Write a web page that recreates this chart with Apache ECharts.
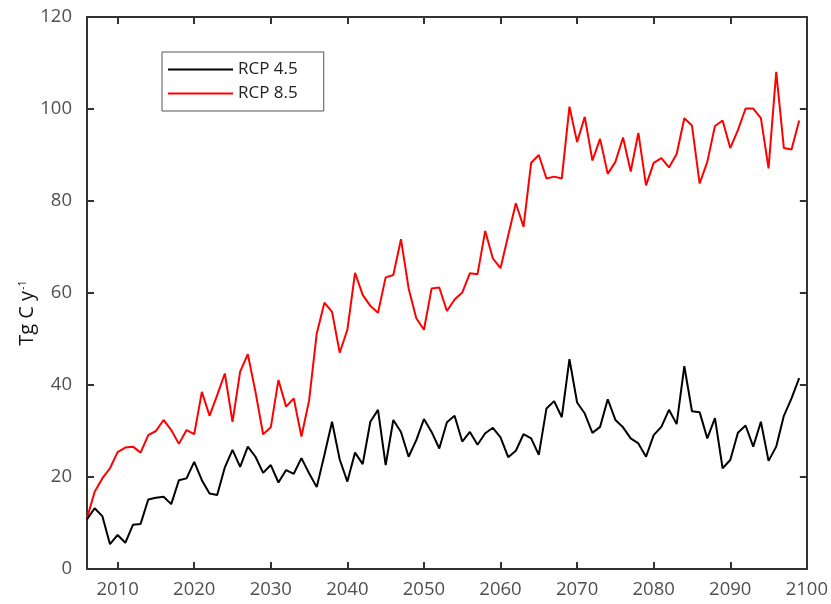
<!DOCTYPE html>
<html>
<head>
<meta charset="utf-8">
<script src="https://cdn.jsdelivr.net/npm/echarts@6/dist/echarts.min.js"></script>
<style>
  html, body { margin: 0; padding: 0; background: #fff; }
  #chart { width: 831px; height: 604px; }
</style>
</head>
<body>
<div id="chart"></div>
<script>
// years 2006..2099
const years = []
for (let y = 2006; y <= 2099; y++) years.push(y)

const rcp45 = [
  10.8, 13.2, 11.5, 5.4, 7.4, 5.7, 9.6, 9.8, 15.1, 15.5,
  15.7, 14.1, 19.3, 19.7, 23.3, 19.3, 16.4, 16.1, 22.1, 25.9,
  22.2, 26.6, 24.4, 20.9, 22.6, 18.8, 21.5, 20.7, 24.1, 20.8,
  17.8, 24.8, 32.0, 23.8, 19.0, 25.3, 22.8, 32.0, 34.6, 22.6,
  32.4, 29.8, 24.4, 28.0, 32.6, 29.8, 26.2, 31.9, 33.3, 27.7,
  29.8, 27.0, 29.5, 30.7, 28.6, 24.3, 25.7, 29.3, 28.4, 24.8,
  34.9, 36.5, 33.0, 45.6, 36.2, 33.8, 29.6, 30.9, 36.9, 32.4,
  30.8, 28.4, 27.3, 24.4, 29.1, 30.9, 34.6, 31.5, 44.1, 34.3,
  34.1, 28.4, 32.8, 21.9, 23.7, 29.6, 31.2, 26.6, 32.0, 23.5,
  26.6, 33.3, 37.1, 41.5
]

const rcp85 = [
  11.0, 16.8, 19.7, 21.9, 25.4, 26.4, 26.6, 25.3, 29.1, 30.0,
  32.4, 30.2, 27.2, 30.2, 29.3, 38.5, 33.3, 37.8, 42.5, 32.0,
  42.9, 46.7, 38.5, 29.3, 30.8, 41.1, 35.3, 37.1, 28.8, 36.6,
  51.2, 57.9, 55.9, 47.0, 52.0, 64.4, 59.6, 57.2, 55.7, 63.4,
  63.9, 71.7, 61.0, 54.5, 52.0, 61.0, 61.2, 56.1, 58.6, 60.1,
  64.3, 64.1, 73.5, 67.5, 65.4, 72.5, 79.5, 74.4, 88.3, 90.0,
  84.9, 85.3, 84.9, 100.5, 92.8, 98.3, 88.8, 93.5, 85.9, 88.5,
  93.8, 86.4, 94.8, 83.4, 88.3, 89.3, 87.3, 90.2, 98.0, 96.4,
  83.8, 88.5, 96.3, 97.5, 91.5, 95.4, 100.1, 100.1, 98.0, 87.1,
  108.1, 91.5, 91.2, 97.5
]

const xTicks = [2010, 2020, 2030, 2040, 2050, 2060, 2070, 2080, 2090, 2100]

const axisColor = '#333'
const labelColor = '#505050'
const fontFamily = '"Open Sans", "Noto Sans", sans-serif'

const tickStyle = { color: axisColor, width: 2 }

const chart = echarts.init(document.getElementById('chart'))

const option = {
  animation: false,
  backgroundColor: '#fff',
  grid: { left: 87, right: 21, top: 17, bottom: 35 },
  legend: {
    orient: 'vertical',
    left: 162,
    top: 52,
    padding: [9, 26, 9, 6],
    itemGap: 7,
    itemWidth: 65,
    itemHeight: 2,
    icon: 'rect',
    backgroundColor: '#fff',
    borderColor: '#555',
    borderWidth: 1,
    borderRadius: 0,
    textStyle: { fontSize: 17, color: '#222', fontFamily: fontFamily },
    data: ['RCP 4.5', 'RCP 8.5']
  },
  xAxis: [{
    type: 'value',
    min: 2006,
    max: 2100,
    axisLine: { onZero: false, lineStyle: tickStyle },
    axisTick: { inside: true, length: 7, customValues: xTicks, lineStyle: tickStyle },
    axisLabel: {
      customValues: xTicks,
      margin: 11,
      fontSize: 18.5,
      color: labelColor,
      fontFamily: fontFamily,
      formatter: v => String(v)
    },
    splitLine: { show: false }
  }, {
    type: 'value',
    position: 'top',
    min: 2006,
    max: 2100,
    axisLine: { onZero: false, lineStyle: tickStyle },
    axisTick: { inside: true, length: 7, customValues: xTicks, lineStyle: tickStyle },
    axisLabel: { show: false },
    splitLine: { show: false }
  }],
  yAxis: [{
    type: 'value',
    min: 0,
    max: 120,
    interval: 20,
    name: 'Tg C y{sup|-1}',
    nameLocation: 'middle',
    nameGap: 50,
    nameMoveOverlap: false,
    nameRotate: 90,
    nameTextStyle: {
      fontSize: 20,
      color: '#111',
      fontFamily: fontFamily,
      padding: [0, 40, 0, 0],
      rich: {
        sup: { fontSize: 11, verticalAlign: 'top', color: '#111', fontFamily: fontFamily, padding: [0, 0, 9, 1] }
      }
    },
    axisLine: { show: true, onZero: false, lineStyle: tickStyle },
    axisTick: { show: true, inside: true, length: 7, lineStyle: tickStyle },
    axisLabel: { margin: 15, fontSize: 18.5, color: labelColor, fontFamily: fontFamily },
    splitLine: { show: false }
  }, {
    type: 'value',
    position: 'right',
    min: 0,
    max: 120,
    interval: 20,
    axisLine: { show: true, onZero: false, lineStyle: tickStyle },
    axisTick: { show: true, inside: true, length: 7, lineStyle: tickStyle },
    axisLabel: { show: false },
    splitLine: { show: false }
  }],
  series: [{
    name: 'RCP 4.5',
    type: 'line',
    data: years.map((y, i) => [y, rcp45[i]]),
    symbol: 'none',
    lineStyle: { color: '#000', width: 2 },
    itemStyle: { color: '#000' },
    z: 3
  }, {
    name: 'RCP 8.5',
    type: 'line',
    data: years.map((y, i) => [y, rcp85[i]]),
    symbol: 'none',
    lineStyle: { color: '#ff0000', width: 2 },
    itemStyle: { color: '#ff0000' },
    z: 2
  }]
}

chart.setOption(option)
</script>
</body>
</html>
